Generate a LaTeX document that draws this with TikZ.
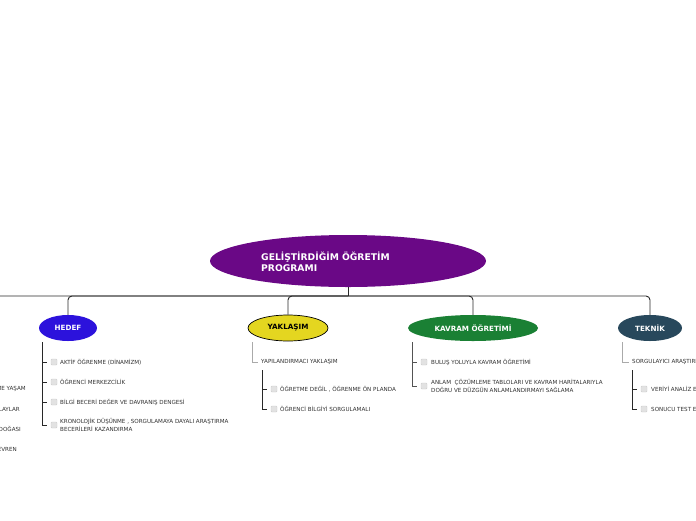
\documentclass[tikz,border=0pt]{standalone}
\usepackage{fontspec}
\setmainfont{DejaVu Sans}
\usetikzlibrary{shapes.geometric}
\definecolor{rootc}{RGB}{106,8,134}
\definecolor{hedefc}{RGB}{44,18,220}
\definecolor{yakc}{RGB}{228,214,32}
\definecolor{kavc}{RGB}{26,128,52}
\definecolor{tekc}{RGB}{40,72,92}
\definecolor{linec}{RGB}{40,40,40}
\definecolor{greyl}{RGB}{170,170,170}
\definecolor{cbfill}{RGB}{226,226,226}
\definecolor{cbdraw}{RGB}{205,205,205}
\definecolor{txtc}{RGB}{50,50,50}
\tikzset{
  topic/.style={ellipse, minimum height=26pt, inner sep=0pt, font=\fontsize{7.2}{8}\selectfont\bfseries, text=white},
  conn/.style={draw=linec, line width=0.9pt, rounded corners=4pt},
  sub/.style={draw=linec, line width=0.8pt},
  subg/.style={draw=greyl, line width=0.8pt},
  cbox/.style={draw=cbdraw, fill=cbfill, rounded corners=1pt, minimum size=6pt, inner sep=0pt},
  item/.style={anchor=west, inner sep=0pt, font=\fontsize{5.6}{8}\selectfont, text=txtc, align=left},
}
\begin{document}
\begin{tikzpicture}[x=1pt,y=-1pt]
\useasboundingbox (0,0) rectangle (696,520);
\clip (0,0) rectangle (696,520);
\fill[white] (0,0) rectangle (696,520);
% root
\node[ellipse, fill=rootc, minimum width=276pt, minimum height=52pt, inner sep=0pt] (root) at (348,261) {};
\node[anchor=west, inner sep=0pt, align=left, text=white, font=\fontsize{9.2}{11}\selectfont\bfseries] (roott) at (261,261.5) {GELİŞTİRDİĞİM ÖĞRETİM\\PROGRAMI};
% topics
\node[topic, fill=hedefc, minimum width=58pt] (hedef) at (68,328) {HEDEF};
\node[topic, fill=yakc, draw=black, line width=0.7pt, text=black, minimum width=80pt] (yak) at (288,328) {YAKLAŞIM};
\node[topic, fill=kavc, minimum width=130pt] (kav) at (473,328) {KAVRAM ÖĞRETİMİ};
\node[topic, fill=tekc, minimum width=64pt] (tek) at (650,328) {TEKNİK};
\coordinate (offl) at (-60,316);
\coordinate (jn) at (348,296);
% connectors
\draw[conn] (root.south) -- (jn);
\draw[conn] (jn) -| (offl);
\draw[conn] (jn) -| (hedef.north);
\draw[conn] (jn) -| (yak.north);
\draw[conn] (jn) -| (kav.north);
\draw[conn] (jn) -| (tek.north);
% left off-screen items
\node[item, anchor=east] (l1) at (26,389) {ME YAŞAM};
\node[item, anchor=east] (l2) at (20,409) {LAYLAR};
\node[item, anchor=east] (l3) at (21,429) {DOĞASI};
\node[item, anchor=east] (l4) at (17,449) {EVREN};
% HEDEF items
\coordinate (h0) at (42,342);
\node[cbox] (hc1) at (54,362) {};
\node[item] (ht1) at (60,362) {AKTİF ÖĞRENME (DİNAMİZM)};
\node[cbox] (hc2) at (54,382) {};
\node[item] (ht2) at (60,382) {ÖĞRENCİ MERKEZCİLİK};
\node[cbox] (hc3) at (54,402) {};
\node[item] (ht3) at (60,402) {BİLGİ BECERİ DEĞER VE DAVRANIŞ DENGESİ};
\node[cbox] (hc4) at (54,425) {};
\node[item] (ht4) at (60,425) {KRONOLOJİK DÜŞÜNME , SORGULAMAYA DAYALI ARAŞTIRMA\\BECERİLERİ KAZANDIRMA};
\draw[sub] (h0) |- ([xshift=-4pt]hc1.west);
\draw[sub] (h0) |- ([xshift=-4pt]hc2.west);
\draw[sub] (h0) |- ([xshift=-4pt]hc3.west);
\draw[sub] (h0) |- ([xshift=-4pt]hc4.west);
% YAKLASIM items
\coordinate (y0) at (252,342);
\node[item] (yt0) at (261,362) {YAPILANDIRMACI YAKLAŞIM};
\draw[subg] (y0) |- ([xshift=-3pt]yt0.west);
\coordinate (y1) at (262,370);
\node[cbox] (yc1) at (274,389) {};
\node[item] (yt1) at (280,389) {ÖĞRETME DEĞİL , ÖĞRENME ÖN PLANDA};
\node[cbox] (yc2) at (274,409) {};
\node[item] (yt2) at (280,409) {ÖĞRENCİ BİLGİYİ SORGULAMALI};
\draw[sub] (y1) |- ([xshift=-4pt]yc1.west);
\draw[sub] (y1) |- ([xshift=-4pt]yc2.west);
% KAVRAM items
\coordinate (k0) at (412,342);
\node[cbox] (kc1) at (424,362) {};
\node[item] (kt1) at (431,362) {BULUŞ YOLUYLA KAVRAM ÖĞRETİMİ};
\node[cbox] (kc2) at (424,386) {};
\node[item] (kt2) at (431,386) {ANLAM\ \ ÇÖZÜMLEME TABLOLARI VE KAVRAM HARİTALARIYLA\\DOĞRU VE DÜZGÜN ANLAMLANDIRMAYI SAĞLAMA};
\draw[sub, draw=linec!80] (k0) |- ([xshift=-4pt]kc1.west);
\draw[sub, draw=linec!80] (k0) |- ([xshift=-4pt]kc2.west);
% TEKNIK items
\coordinate (t0) at (622,342);
\node[item] (tt0) at (632,362) {SORGULAYICI ARAŞTIRMA};
\draw[subg] (t0) |- ([xshift=-3pt]tt0.west);
\coordinate (t1) at (632,370);
\node[cbox] (tc1) at (644,389) {};
\node[item] (tt1) at (651,389) {VERİYİ ANALİZ ETME};
\node[cbox] (tc2) at (644,409) {};
\node[item] (tt2) at (651,409) {SONUCU TEST ETME};
\draw[sub] (t1) |- ([xshift=-4pt]tc1.west);
\draw[sub] (t1) |- ([xshift=-4pt]tc2.west);
\end{tikzpicture}
\end{document}
